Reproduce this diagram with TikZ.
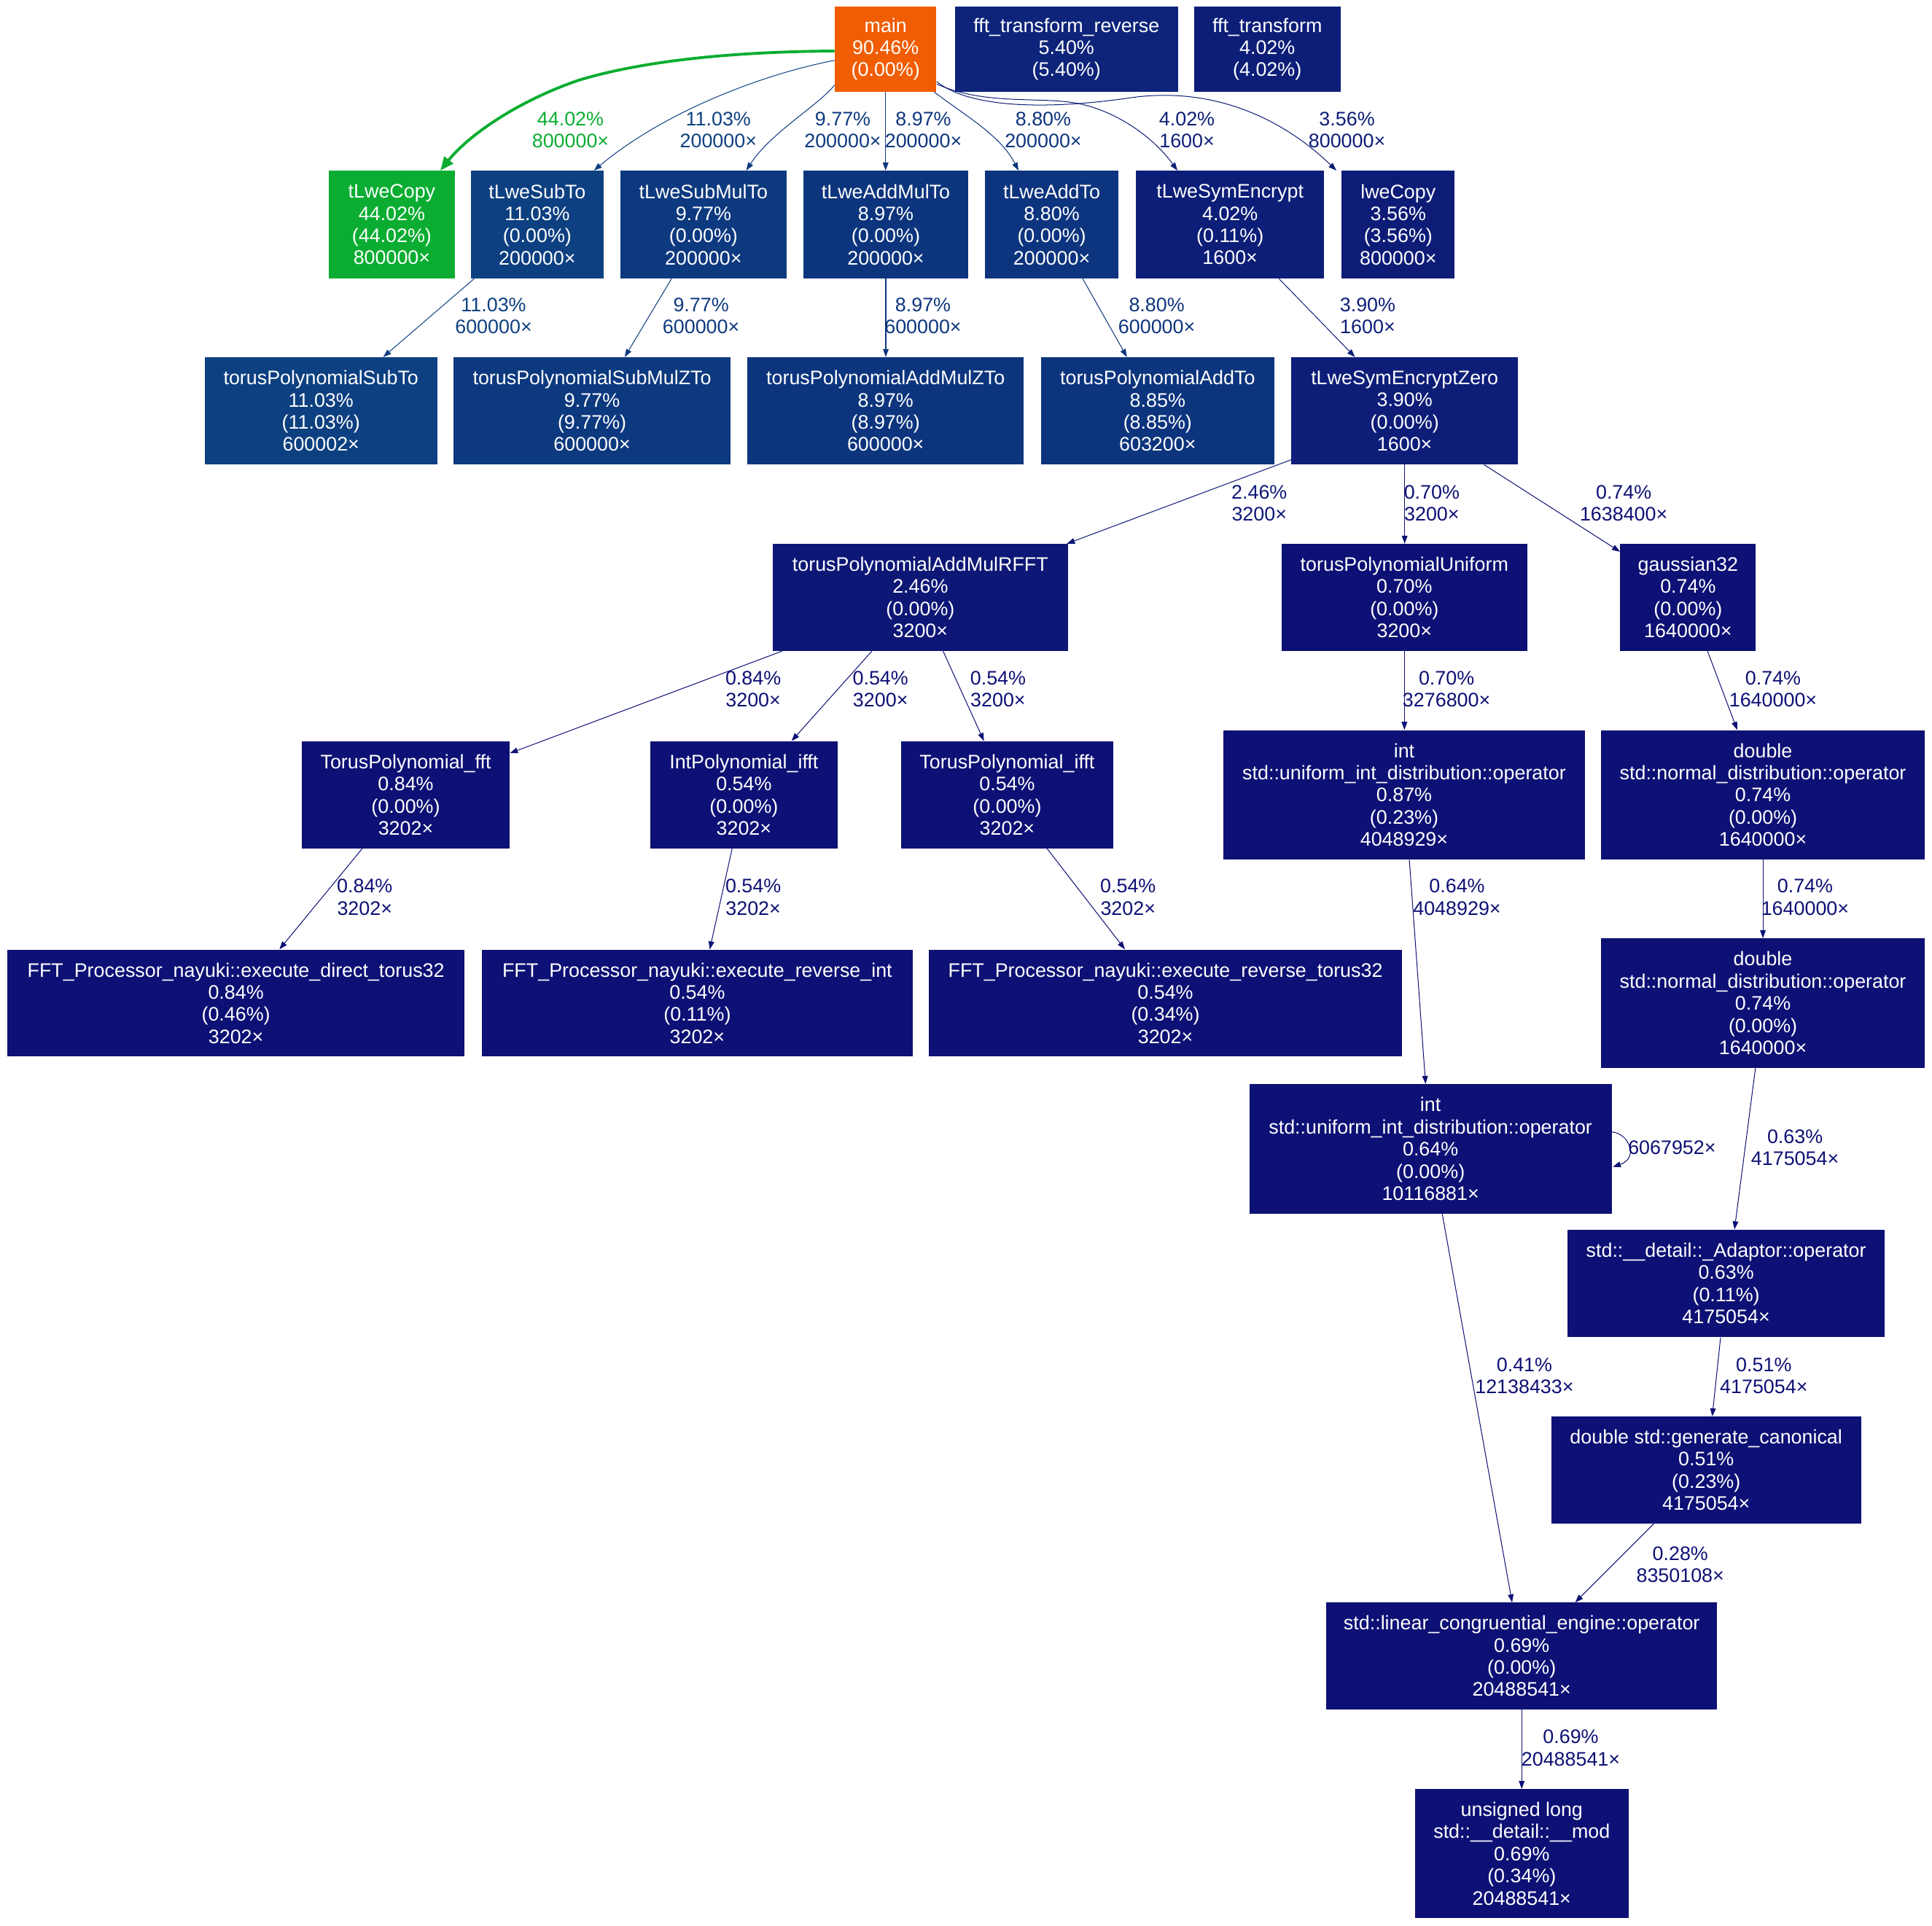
\documentclass[tikz,border=0pt]{standalone}
\usepackage{fontspec}
\setmainfont{Liberation Sans}
\usetikzlibrary{arrows.meta,calc}
\definecolor{cmain}{HTML}{F15D02}
\definecolor{cgreen}{HTML}{0AAD31}
\definecolor{c1103}{HTML}{0D4081}
\definecolor{c977}{HTML}{0D397F}
\definecolor{c897}{HTML}{0D357E}
\definecolor{c885}{HTML}{0D357E}
\definecolor{c880}{HTML}{0D347E}
\definecolor{c540}{HTML}{0D247A}
\definecolor{c402}{HTML}{0D1E78}
\definecolor{c390}{HTML}{0D1D78}
\definecolor{c356}{HTML}{0D1C77}
\definecolor{c246}{HTML}{0D1776}
\definecolor{clow}{HTML}{0D1074}
\newcommand{\gn}[7]{\node[gbox,fill=#6,minimum width=#4pt,minimum height=#5pt] (#1) at (#2,#3) {#7};}
\begin{document}
\begin{tikzpicture}[x=1pt,y=-1pt,font=\fontsize{15.9}{18}\selectfont,
  gbox/.style={rectangle,inner sep=0pt,text=white,align=center},
  elab/.style={inner sep=0pt,align=center,text=clow},
  conn/.style={draw=#1,line width=0.6pt,-{Triangle[length=6.5pt,width=4.6pt]}},
  conngreen/.style={draw=cgreen,line width=2.3pt,-{Triangle[length=11pt,width=9pt]}}]
\path[use as bounding box] (0,0) rectangle (1568,1563.2);
% nodes
\gn{main}{718.75}{40}{82.5}{69}{cmain}{main\\90.46\%\\(0.00\%)}
\gn{fftrev}{865.5}{40}{181}{69}{c540}{fft\_transform\_reverse\\5.40\%\\(5.40\%)}
\gn{fft}{1028.5}{40}{119}{69}{c402}{fft\_transform\\4.02\%\\(4.02\%)}
\gn{tLweCopy}{318}{182.3}{102}{87.4}{cgreen}{tLweCopy\\44.02\%\\(44.02\%)\\800000×}
\gn{tLweSubTo}{436}{182.3}{108}{87.4}{c1103}{tLweSubTo\\11.03\%\\(0.00\%)\\200000×}
\gn{tLweSubMulTo}{570.9}{182.3}{134.6}{87.4}{c977}{tLweSubMulTo\\9.77\%\\(0.00\%)\\200000×}
\gn{tLweAddMulTo}{718.9}{182.3}{134.2}{87.4}{c897}{tLweAddMulTo\\8.97\%\\(0.00\%)\\200000×}
\gn{tLweAddTo}{853.55}{182.3}{108.3}{87.4}{c880}{tLweAddTo\\8.80\%\\(0.00\%)\\200000×}
\gn{tLweSymEncrypt}{998.3}{182.3}{152.6}{87.4}{c402}{tLweSymEncrypt\\4.02\%\\(0.11\%)\\1600×}
\gn{lweCopy}{1134.75}{182.3}{91.5}{87.4}{c356}{lweCopy\\3.56\%\\(3.56\%)\\800000×}
\gn{tpSubTo}{260.5}{333.5}{189}{87}{c1103}{torusPolynomialSubTo\\11.03\%\\(11.03\%)\\600002×}
\gn{tpSubMulZTo}{480.5}{333.5}{225}{87}{c977}{torusPolynomialSubMulZTo\\9.77\%\\(9.77\%)\\600000×}
\gn{tpAddMulZTo}{718.75}{333.5}{224.5}{87}{c897}{torusPolynomialAddMulZTo\\8.97\%\\(8.97\%)\\600000×}
\gn{tpAddTo}{939.5}{333.5}{189}{87}{c885}{torusPolynomialAddTo\\8.85\%\\(8.85\%)\\603200×}
\gn{tLweSymEncryptZero}{1140}{333.5}{184}{87}{c390}{tLweSymEncryptZero\\3.90\%\\(0.00\%)\\1600×}
\gn{RFFT}{746.95}{484.9}{239.3}{86.8}{c246}{torusPolynomialAddMulRFFT\\2.46\%\\(0.00\%)\\3200×}
\gn{tpUniform}{1139.8}{484.9}{199.6}{86.8}{clow}{torusPolynomialUniform\\0.70\%\\(0.00\%)\\3200×}
\gn{gaussian}{1370}{484.9}{110}{86.8}{clow}{gaussian32\\0.74\%\\(0.00\%)\\1640000×}
\gn{fftT}{329.3}{645.1}{168.6}{86.9}{clow}{TorusPolynomial\_fft\\0.84\%\\(0.00\%)\\3202×}
\gn{intIfft}{603.75}{645.1}{152.5}{86.9}{clow}{IntPolynomial\_ifft\\0.54\%\\(0.00\%)\\3202×}
\gn{torIfft}{817.4}{645.1}{172.2}{86.9}{clow}{TorusPolynomial\_ifft\\0.54\%\\(0.00\%)\\3202×}
\gn{intUniA}{1139.6}{645.1}{293.6}{105}{clow}{int\\std::uniform\_int\_distribution::operator\\0.87\%\\(0.23\%)\\4048929×}
\gn{normA}{1430.75}{645.1}{262.5}{105}{clow}{double\\std::normal\_distribution::operator\\0.74\%\\(0.00\%)\\1640000×}
\gn{fftDirect}{191.5}{814.2}{371}{86.9}{clow}{FFT\_Processor\_nayuki::execute\_direct\_torus32\\0.84\%\\(0.46\%)\\3202×}
\gn{fftRevInt}{565.9}{814.2}{349.8}{86.9}{clow}{FFT\_Processor\_nayuki::execute\_reverse\_int\\0.54\%\\(0.11\%)\\3202×}
\gn{fftRevTorus}{945.85}{814.2}{384.1}{86.9}{clow}{FFT\_Processor\_nayuki::execute\_reverse\_torus32\\0.54\%\\(0.34\%)\\3202×}
\gn{normB}{1430.75}{814.2}{262.5}{105}{clow}{double\\std::normal\_distribution::operator\\0.74\%\\(0.00\%)\\1640000×}
\gn{intUniB}{1161}{932.5}{294}{105}{clow}{int\\std::uniform\_int\_distribution::operator\\0.64\%\\(0.00\%)\\10116881×}
\gn{adaptor}{1400.9}{1041.7}{257.8}{87.4}{clow}{std::\_\_detail::\_Adaptor::operator\\0.63\%\\(0.11\%)\\4175054×}
\gn{genCanon}{1384.7}{1193.15}{251.4}{86.7}{clow}{double std::generate\_canonical\\0.51\%\\(0.23\%)\\4175054×}
\gn{lce}{1235}{1344.15}{317}{86.7}{clow}{std::linear\_congruential\_engine::operator\\0.69\%\\(0.00\%)\\20488541×}
\gn{umod}{1235.05}{1504.45}{173.7}{104.5}{clow}{unsigned long\\std::\_\_detail::\_\_mod\\0.69\%\\(0.34\%)\\20488541×}
% edges from main
\draw[conngreen] ($(main.west)+(0,1.4)$) .. controls (590,42) and (520,50) .. (470,65) .. controls (420,82) and (380,110) .. ($(tLweCopy.north)+(39.4,0)$);
\draw[conn=c1103] ($(main.west)+(0,9)$) .. controls (620,60) and (540,90) .. ($(tLweSubTo.north)+(46,0)$);
\draw[conn=c977] ($(main.west)+(0,29)$) .. controls (665,85) and (625,108) .. ($(tLweSubMulTo.north)+(34.8,0)$);
\draw[conn=c897] (main.south) -- (main.south |- tLweAddMulTo.north);
\draw[conn=c880] ($(main.south east)+(-2,0)$) .. controls (785,95) and (812,110) .. ($(tLweAddTo.north)+(-26.95,0)$);
\draw[conn=c402] ($(main.south east)+(0,-6.5)$) .. controls (800,86) and (845,78) .. (875,84) .. controls (905,90) and (935,110) .. ($(tLweSymEncrypt.north)+(-42.7,0)$);
\draw[conn=c356] ($(main.south east)+(0,-8.5)$) .. controls (790,90) and (860,88) .. (920,79) .. controls (990,70) and (1045,100) .. ($(lweCopy.north)+(-50.15,0)$);
% row 2 -> 3
\draw[conn=c1103] ($(tLweSubTo.south west)+(3,0)$) -- ($(tpSubTo.north)+(50.5,0)$);
\draw[conn=c977] ($(tLweSubMulTo.south)+(-25.9,0)$) -- ($(tpSubMulZTo.north)+(26.5,0)$);
\draw[conn=c897] (tLweAddMulTo.south) -- (tLweAddMulTo.south |- tpAddMulZTo.north);
\draw[conn=c880] ($(tLweAddTo.south)+(25.15,0)$) -- ($(tpAddTo.north)+(-24.9,0)$);
\draw[conn=c390] ($(tLweSymEncrypt.south)+(39.7,0)$) -- ($(tLweSymEncryptZero.north)+(-40.3,0)$);
% row 3 -> 4
\draw[conn=c246] ($(tLweSymEncryptZero.south west)+(0,-4)$) -- ($(RFFT.north east)+(-1,0)$);
\draw[conn=clow] (tLweSymEncryptZero.south) -- (tLweSymEncryptZero.south |- tpUniform.north);
\draw[conn=clow] ($(tLweSymEncryptZero.south)+(64.5,0)$) -- ($(gaussian.north west)+(0,6.5)$);
% row 4 -> 5
\draw[conn=clow] ($(RFFT.south west)+(7.6,0)$) -- ($(fftT.north east)+(0,9.9)$);
\draw[conn=clow] ($(RFFT.south)+(-39.35,0)$) -- ($(intIfft.north)+(38.65,0)$);
\draw[conn=clow] ($(RFFT.south)+(18.45,0)$) -- ($(torIfft.north)+(-18.8,0)$);
\draw[conn=clow] (tpUniform.south) -- (tpUniform.south |- intUniA.north);
\draw[conn=clow] ($(gaussian.south)+(15.8,0)$) -- ($(normA.north)+(-20.85,0)$);
% row 5 -> 6
\draw[conn=clow] ($(fftT.south)+(-35.3,0)$) -- ($(fftDirect.north)+(35.3,0)$);
\draw[conn=clow] ($(intIfft.south)+(-9.55,0)$) -- ($(fftRevInt.north)+(10.1,0)$);
\draw[conn=clow] ($(torIfft.south)+(32.4,0)$) -- ($(fftRevTorus.north)+(-32.85,0)$);
\draw[conn=clow] ($(intUniA.south)+(4.2,0)$) -- ($(intUniB.north)+(-4,0)$);
\draw[conn=clow] (normA.south) -- (normB.north);
% lower part
\draw[conn=clow] ($(intUniB.east)+(0,-13.8)$) .. controls +(14,1.3) and +(21.3,-7.1) .. ($(intUniB.east)+(0.7,14.6)$);
\draw[conn=clow] ($(normB.south)+(-6.05,0)$) -- ($(adaptor.north)+(6.8,0)$);
\draw[conn=clow] ($(intUniB.south)+(9.5,0)$) -- ($(lce.north)+(-7.8,0)$);
\draw[conn=clow] ($(adaptor.south)+(-4.5,0)$) -- ($(genCanon.north)+(4.9,0)$);
\draw[conn=clow] ($(genCanon.south)+(-42.5,0)$) -- ($(lce.north)+(43.4,0)$);
\draw[conn=clow] (lce.south) -- (lce.south |- umod.north);
% labels
\node[elab,text=cgreen] (l1) at (463,105.5) {44.02\%\\800000×};
\node[elab,text=c1103] (l2) at (583,105.5) {11.03\%\\200000×};
\node[elab,text=c977] (l3) at (684,105.5) {9.77\%\\200000×};
\node[elab,text=c897] (l4) at (749.4,105.5) {8.97\%\\200000×};
\node[elab,text=c880] (l5) at (846.7,105.5) {8.80\%\\200000×};
\node[elab,text=c402] (l6) at (963.3,105.5) {4.02\%\\1600×};
\node[elab,text=c356] (l7) at (1093.2,105.5) {3.56\%\\800000×};
\node[elab,text=c1103] (l8) at (400.6,256.4) {11.03\%\\600000×};
\node[elab,text=c977] (l9) at (569,256.4) {9.77\%\\600000×};
\node[elab,text=c897] (l10) at (749.1,256.4) {8.97\%\\600000×};
\node[elab,text=c880] (l11) at (938.8,256.4) {8.80\%\\600000×};
\node[elab,text=c390] (l12) at (1110,256.4) {3.90\%\\1600×};
\node[elab,text=c246] (l13) at (1022,408.3) {2.46\%\\3200×};
\node[elab] (l14) at (1162,408.3) {0.70\%\\3200×};
\node[elab] (l15) at (1317.8,408.3) {0.74\%\\1638400×};
\node[elab] (l16) at (611.3,559.2) {0.84\%\\3200×};
\node[elab] (l17) at (714.6,559.2) {0.54\%\\3200×};
\node[elab] (l18) at (810,559.2) {0.54\%\\3200×};
\node[elab] (l19) at (1174,559.2) {0.70\%\\3276800×};
\node[elab] (l20) at (1439,559.2) {0.74\%\\1640000×};
\node[elab] (l21) at (296,728.2) {0.84\%\\3202×};
\node[elab] (l22) at (611.3,728.2) {0.54\%\\3202×};
\node[elab] (l23) at (915.5,728.2) {0.54\%\\3202×};
\node[elab] (l24) at (1182.5,728.2) {0.64\%\\4048929×};
\node[elab] (l25) at (1465,728.2) {0.74\%\\1640000×};
\node[elab] (l26) at (1357,931.4) {6067952×};
\node[elab] (l27) at (1456.8,931.5) {0.63\%\\4175054×};
\node[elab] (l28) at (1237.2,1116.8) {0.41\%\\12138433×};
\node[elab] (l29) at (1431.5,1116.8) {0.51\%\\4175054×};
\node[elab] (l30) at (1363.7,1269.8) {0.28\%\\8350108×};
\node[elab] (l31) at (1274.8,1418.8) {0.69\%\\20488541×};
\end{tikzpicture}
\end{document}
